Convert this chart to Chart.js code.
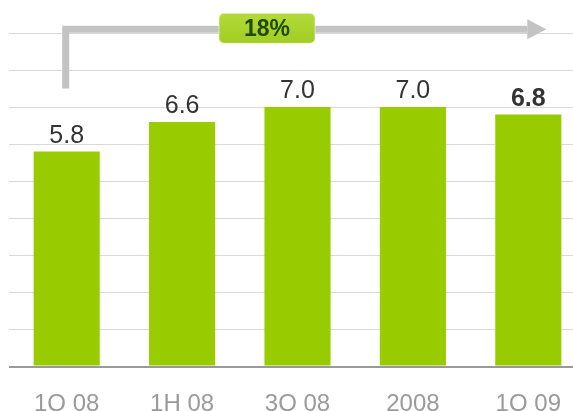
<!DOCTYPE html>
<html>
<head>
<meta charset="utf-8">
<script src="https://cdn.jsdelivr.net/npm/chart.js@4/dist/chart.umd.min.js"></script>
<style>
  html, body { margin: 0; padding: 0; background: #fff; }
  #wrap { width: 573px; height: 411px; overflow: hidden; }
</style>
</head>
<body>
<div id="wrap"><canvas id="chart" width="586" height="411"></canvas></div>
<script>
// data
const categories = ['1Q 08', '1H 08', '3Q 08', '2008', '1Q 09'];
const values = [5.8, 6.6, 7.0, 7.0, 6.8];
const valueLabels = ['5.8', '6.6', '7.0', '7.0', '6.8'];
const boldLabel = [false, false, false, false, true];
const growthLabel = '18%';

// value labels above bars
const barLabels = {
  id: 'barLabels',
  afterDatasetsDraw(chart) {
    const ctx = chart.ctx;
    const meta = chart.getDatasetMeta(0);
    ctx.save();
    ctx.fillStyle = '#333333';
    ctx.textAlign = 'center';
    ctx.textBaseline = 'alphabetic';
    meta.data.forEach((bar, i) => {
      ctx.font = (boldLabel[i] ? 'bold ' : '') + '25px "Liberation Sans", Arial, sans-serif';
      ctx.fillText(valueLabels[i], bar.x, bar.y - 9);
    });
    ctx.restore();
  }
};

// growth arrow with the percentage box
const growthArrow = {
  id: 'growthArrow',
  afterDraw(chart) {
    const ctx = chart.ctx;
    const y = chart.scales.y;
    const meta = chart.getDatasetMeta(0);
    const x0 = meta.data[0].x - 1;
    const xEnd = meta.data[meta.data.length - 1].x;
    const lineY = y.getPixelForValue(9.1);
    const yBottom = y.getPixelForValue(7.5);
    ctx.save();
    ctx.strokeStyle = '#c3c3c3';
    ctx.lineWidth = 7;
    ctx.lineJoin = 'miter';
    ctx.lineCap = 'butt';
    ctx.beginPath();
    ctx.moveTo(x0, yBottom);
    ctx.lineTo(x0, lineY);
    ctx.lineTo(xEnd - 1, lineY);
    ctx.stroke();
    ctx.fillStyle = '#c3c3c3';
    ctx.beginPath();
    ctx.moveTo(xEnd - 1, lineY - 10);
    ctx.lineTo(xEnd + 18, lineY);
    ctx.lineTo(xEnd - 1, lineY + 10);
    ctx.closePath();
    ctx.fill();

    // label box
    const bx = 219, bw = 96, bh = 30, by = lineY - 16;
    const g = ctx.createLinearGradient(0, by, 0, by + bh);
    g.addColorStop(0, '#b2da3a');
    g.addColorStop(1, '#a2cd22');
    ctx.fillStyle = g;
    ctx.beginPath();
    ctx.roundRect(bx, by, bw, bh, 5);
    ctx.fill();
    ctx.strokeStyle = 'rgba(255,255,255,0.5)';
    ctx.lineWidth = 1;
    ctx.stroke();
    ctx.fillStyle = '#1f4a00';
    ctx.font = 'bold 23px "Liberation Sans", Arial, sans-serif';
    ctx.textAlign = 'center';
    ctx.textBaseline = 'middle';
    ctx.fillText(growthLabel, bx + bw / 2, by + bh / 2 + 1);
    ctx.restore();
  }
};

new Chart(document.getElementById('chart'), {
  type: 'bar',
  data: {
    labels: categories,
    datasets: [{
      data: values,
      backgroundColor: '#99cc00',
      borderWidth: 0,
      barPercentage: 0.573,
      categoryPercentage: 1.0
    }]
  },
  options: {
    responsive: false,
    animation: false,
    layout: { padding: { left: 9, right: 0, top: 33, bottom: 0 } },
    plugins: { legend: { display: false }, tooltip: { enabled: false } },
    scales: {
      x: {
        grid: { display: false, drawTicks: false },
        border: { display: false },
        ticks: {
          color: '#9a9a9a',
          padding: 23,
          font: { family: '"Liberation Sans", Arial, sans-serif', size: 24 }
        },
        afterFit(scale) { scale.height = 44.5; }
      },
      y: {
        min: 0,
        max: 9,
        ticks: { display: false, stepSize: 1 },
        border: { display: false },
        grid: {
          drawTicks: false,
          color: ctx => ctx.tick.value === 0 ? '#999999' : '#d9d9d9',
          lineWidth: ctx => ctx.tick.value === 0 ? 2 : 1
        },
        afterFit(scale) { scale.width = 0; }
      }
    }
  },
  plugins: [barLabels, growthArrow]
});
</script>
</body>
</html>
